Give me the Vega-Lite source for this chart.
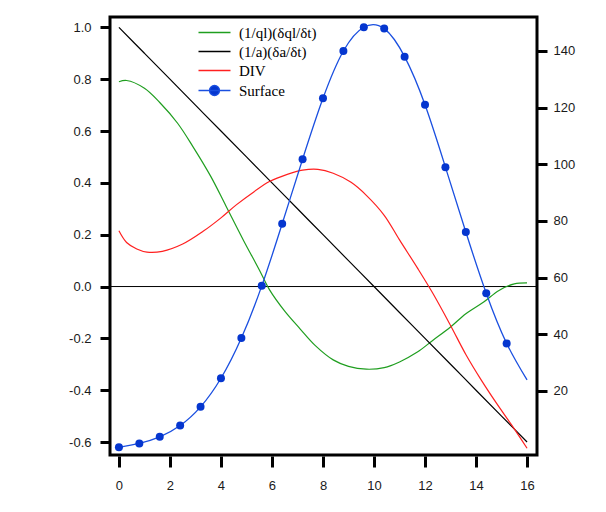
{
  "$schema": "https://vega.github.io/schema/vega-lite/v6.json",
  "width": 427,
  "height": 438,
  "autosize": {"type": "none"},
  "padding": {"left": 110, "top": 17, "right": 69, "bottom": 57},
  "background": "white",
  "config": {
    "view": {"stroke": "black", "strokeWidth": 3},
    "font": "Liberation Sans",
    "axis": {"labelFont": "Liberation Sans", "labelFontSize": 13, "labelColor": "#1a1a1a", "tickColor": "black", "tickWidth": 3, "tickSize": 10, "domain": false, "grid": false, "title": null, "labelExpr": "replace(datum.label, '\u2212', '-')"}
  },
  "datasets": {
    "lines": [
      {"series": "(1/ql)(δql/δt)", "x": 0, "v": 0.79},
      {"series": "(1/ql)(δql/δt)", "x": 0.3, "v": 0.795},
      {"series": "(1/ql)(δql/δt)", "x": 1.0, "v": 0.765},
      {"series": "(1/ql)(δql/δt)", "x": 1.6, "v": 0.71},
      {"series": "(1/ql)(δql/δt)", "x": 2.3, "v": 0.63},
      {"series": "(1/ql)(δql/δt)", "x": 2.9, "v": 0.54},
      {"series": "(1/ql)(δql/δt)", "x": 3.6, "v": 0.425},
      {"series": "(1/ql)(δql/δt)", "x": 4.2, "v": 0.31},
      {"series": "(1/ql)(δql/δt)", "x": 4.9, "v": 0.175},
      {"series": "(1/ql)(δql/δt)", "x": 5.5, "v": 0.065},
      {"series": "(1/ql)(δql/δt)", "x": 5.9, "v": -0.012},
      {"series": "(1/ql)(δql/δt)", "x": 6.5, "v": -0.095},
      {"series": "(1/ql)(δql/δt)", "x": 7.1, "v": -0.163},
      {"series": "(1/ql)(δql/δt)", "x": 7.7, "v": -0.228},
      {"series": "(1/ql)(δql/δt)", "x": 8.4, "v": -0.283},
      {"series": "(1/ql)(δql/δt)", "x": 9.0, "v": -0.308},
      {"series": "(1/ql)(δql/δt)", "x": 9.7, "v": -0.319},
      {"series": "(1/ql)(δql/δt)", "x": 10.4, "v": -0.313},
      {"series": "(1/ql)(δql/δt)", "x": 11.0, "v": -0.291},
      {"series": "(1/ql)(δql/δt)", "x": 11.7, "v": -0.253},
      {"series": "(1/ql)(δql/δt)", "x": 12.3, "v": -0.208},
      {"series": "(1/ql)(δql/δt)", "x": 13.0, "v": -0.156},
      {"series": "(1/ql)(δql/δt)", "x": 13.6, "v": -0.105},
      {"series": "(1/ql)(δql/δt)", "x": 14.3, "v": -0.06},
      {"series": "(1/ql)(δql/δt)", "x": 14.9, "v": -0.015},
      {"series": "(1/ql)(δql/δt)", "x": 15.5, "v": 0.01},
      {"series": "(1/ql)(δql/δt)", "x": 16.0, "v": 0.014},
      {"series": "(1/a)(δa/δt)", "x": 0, "v": 1.0},
      {"series": "(1/a)(δa/δt)", "x": 1, "v": 0.9},
      {"series": "(1/a)(δa/δt)", "x": 2, "v": 0.8},
      {"series": "(1/a)(δa/δt)", "x": 3, "v": 0.7},
      {"series": "(1/a)(δa/δt)", "x": 4, "v": 0.6},
      {"series": "(1/a)(δa/δt)", "x": 5, "v": 0.5},
      {"series": "(1/a)(δa/δt)", "x": 6, "v": 0.4},
      {"series": "(1/a)(δa/δt)", "x": 7, "v": 0.3},
      {"series": "(1/a)(δa/δt)", "x": 8, "v": 0.2},
      {"series": "(1/a)(δa/δt)", "x": 9, "v": 0.1},
      {"series": "(1/a)(δa/δt)", "x": 10, "v": 0.0},
      {"series": "(1/a)(δa/δt)", "x": 11, "v": -0.1},
      {"series": "(1/a)(δa/δt)", "x": 12, "v": -0.2},
      {"series": "(1/a)(δa/δt)", "x": 13, "v": -0.3},
      {"series": "(1/a)(δa/δt)", "x": 14, "v": -0.4},
      {"series": "(1/a)(δa/δt)", "x": 15, "v": -0.5},
      {"series": "(1/a)(δa/δt)", "x": 16, "v": -0.6},
      {"series": "DIV", "x": 0, "v": 0.215},
      {"series": "DIV", "x": 0.3, "v": 0.17},
      {"series": "DIV", "x": 0.7, "v": 0.145},
      {"series": "DIV", "x": 1.1, "v": 0.133},
      {"series": "DIV", "x": 1.7, "v": 0.136},
      {"series": "DIV", "x": 2.5, "v": 0.164},
      {"series": "DIV", "x": 3.3, "v": 0.213},
      {"series": "DIV", "x": 4.0, "v": 0.265},
      {"series": "DIV", "x": 4.6, "v": 0.315},
      {"series": "DIV", "x": 5.3, "v": 0.366},
      {"series": "DIV", "x": 5.9, "v": 0.405},
      {"series": "DIV", "x": 6.6, "v": 0.433},
      {"series": "DIV", "x": 7.2, "v": 0.449},
      {"series": "DIV", "x": 7.8, "v": 0.452},
      {"series": "DIV", "x": 8.4, "v": 0.437},
      {"series": "DIV", "x": 9.1, "v": 0.402},
      {"series": "DIV", "x": 9.7, "v": 0.352},
      {"series": "DIV", "x": 10.4, "v": 0.275},
      {"series": "DIV", "x": 11.0, "v": 0.18},
      {"series": "DIV", "x": 11.7, "v": 0.072},
      {"series": "DIV", "x": 12.3, "v": -0.025},
      {"series": "DIV", "x": 13.0, "v": -0.15},
      {"series": "DIV", "x": 13.6, "v": -0.262},
      {"series": "DIV", "x": 14.2, "v": -0.36},
      {"series": "DIV", "x": 14.8, "v": -0.45},
      {"series": "DIV", "x": 15.4, "v": -0.535},
      {"series": "DIV", "x": 16.0, "v": -0.624}
    ],
    "surface": [
      {"series": "Surface", "x": 0, "v": 0.1},
      {"series": "Surface", "x": 0.8, "v": 1.5},
      {"series": "Surface", "x": 1.6, "v": 3.8},
      {"series": "Surface", "x": 2.4, "v": 7.8},
      {"series": "Surface", "x": 3.2, "v": 14.4},
      {"series": "Surface", "x": 4.0, "v": 24.5},
      {"series": "Surface", "x": 4.8, "v": 38.7},
      {"series": "Surface", "x": 5.6, "v": 57.1},
      {"series": "Surface", "x": 6.4, "v": 79.0},
      {"series": "Surface", "x": 7.2, "v": 101.8},
      {"series": "Surface", "x": 8.0, "v": 123.3},
      {"series": "Surface", "x": 8.8, "v": 140.0},
      {"series": "Surface", "x": 9.6, "v": 148.4},
      {"series": "Surface", "x": 10.4, "v": 147.9},
      {"series": "Surface", "x": 11.2, "v": 138.0},
      {"series": "Surface", "x": 12.0, "v": 121.0},
      {"series": "Surface", "x": 12.8, "v": 99.0},
      {"series": "Surface", "x": 13.6, "v": 76.1},
      {"series": "Surface", "x": 14.4, "v": 54.5},
      {"series": "Surface", "x": 15.2, "v": 36.8},
      {"series": "Surface", "x": 16.0, "v": 23.9}
    ]
  },
  "layer": [
    {
      "layer": [
        {
          "data": {"values": [{}]},
          "mark": {"type": "rule", "color": "black", "strokeWidth": 1},
          "encoding": {
            "y": {"datum": 0, "type": "quantitative", "scale": {"domain": [-0.65, 1.04], "nice": false, "zero": false}}
          }
        },
        {
          "data": {"name": "lines"},
          "mark": {"type": "line", "strokeWidth": 1.2, "interpolate": "catmull-rom"},
          "encoding": {
            "x": {"field": "x", "type": "quantitative", "scale": {"domain": [-0.35, 16.39], "nice": false, "zero": false},
                  "axis": {"values": [0, 2, 4, 6, 8, 10, 12, 14, 16], "offset": 1, "tickSize": 11, "labelPadding": 12}},
            "y": {"field": "v", "type": "quantitative", "scale": {"domain": [-0.65, 1.04], "nice": false, "zero": false},
                  "axis": {"orient": "left", "values": [-0.6, -0.4, -0.2, 0, 0.2, 0.4, 0.6, 0.8, 1.0], "format": ".1f", "labelPadding": 9}},
            "color": {"field": "series", "type": "nominal",
                      "scale": {"domain": ["(1/ql)(δql/δt)", "(1/a)(δa/δt)", "DIV", "Surface"], "range": ["#1f9e1f", "#000000", "#ff2020", "#1a4fe0"]},
                      "legend": {
                        "orient": "none", "legendX": 96, "legendY": 7, "title": null,
                        "labelFont": "Liberation Serif", "labelFontSize": 15, "labelColor": "black",
                        "symbolSize": 100, "symbolStrokeWidth": 1.3, "labelOffset": 17, "rowPadding": 3,
                        "padding": 1, "fillColor": "white", "strokeColor": null, "labelLimit": 0,
                        "encode": {"symbols": {"update": {
                          "shape": {"signal": "datum.value === 'Surface' ? 'M-3.2,0L3.2,0M-1,0A1,1,0,1,0,1,0A1,1,0,1,0,-1,0Z' : 'M-3.2,0L3.2,0'"},
                          "fill": {"signal": "datum.value === 'Surface' ? '#0536cf' : 'transparent'"}
                        }}}
                      }}
          }
        }
      ]
    },
    {
      "data": {"name": "surface"},
      "encoding": {
        "x": {"field": "x", "type": "quantitative", "scale": {"domain": [-0.35, 16.39], "nice": false, "zero": false},
              "axis": {"values": [0, 2, 4, 6, 8, 10, 12, 14, 16], "offset": 1, "tickSize": 11, "labelPadding": 12}},
        "y": {"field": "v", "type": "quantitative", "scale": {"domain": [-2.6, 152], "nice": false, "zero": false},
              "axis": {"orient": "right", "values": [20, 40, 60, 80, 100, 120, 140], "labelPadding": 6}},
        "color": {"field": "series", "type": "nominal"}
      },
      "layer": [
        {"mark": {"type": "line", "strokeWidth": 1.3, "interpolate": "natural"}},
        {"transform": [{"filter": "datum.x < 16"}],
         "mark": {"type": "point", "filled": true, "size": 64, "opacity": 1, "color": "#0536cf"},
         "encoding": {"color": {"value": "#0536cf"}}}
      ]
    }
  ],
  "resolve": {"scale": {"y": "independent"}}
}
